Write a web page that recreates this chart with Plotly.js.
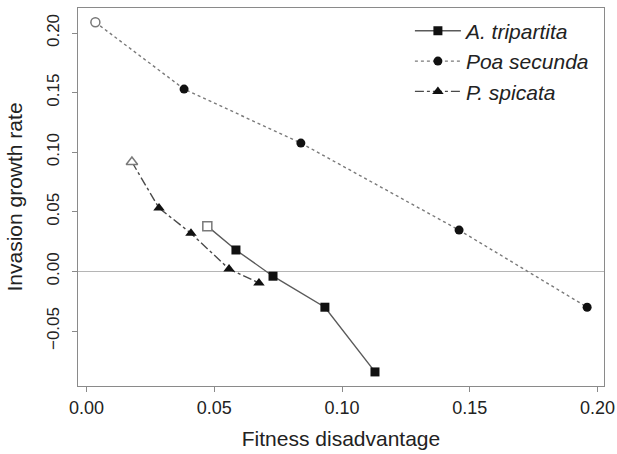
<!DOCTYPE html>
<html>
<head>
<meta charset="utf-8">
<script src="https://cdn.plot.ly/plotly-3.0.1.min.js"></script>
<style>html,body{margin:0;padding:0;background:#fff;}#chart{width:617px;height:454px;}</style>
</head>
<body>
<div id="chart"></div>
<script>
// Data
const seriesNames = ["A. tripartita", "Poa secunda", "P. spicata"];
const triX = [0.0473, 0.0585, 0.0730, 0.0933, 0.1129];
const triY = [0.038, 0.018, -0.004, -0.030, -0.0843];
const poaX = [0.0035, 0.0382, 0.0839, 0.1458, 0.1959];
const poaY = [0.209, 0.153, 0.1077, 0.0347, -0.030];
const spiX = [0.0178, 0.0284, 0.0409, 0.0558, 0.0675];
const spiY = [0.0918, 0.0532, 0.032, 0.002, -0.0097];
const xTicks = [0, 0.05, 0.10, 0.15, 0.20];
const yTicks = [-0.05, 0, 0.05, 0.10, 0.15, 0.20];

const markCol = "#111111";
const openCol = "#7a7a7a";

function series(name, xs, ys, dash, col, sym, size) {
  return {
    x: xs, y: ys, name: name, type: "scatter", mode: "lines+markers",
    line: {color: col, width: 1.4, dash: dash},
    marker: {symbol: sym, size: size, color: markCol}
  };
}
function openPoint(xs, ys, sym, size) {
  return {
    x: [xs[0]], y: [ys[0]], type: "scatter", mode: "markers", showlegend: false,
    hoverinfo: "skip",
    marker: {symbol: sym, size: size, color: "#ffffff", line: {color: openCol, width: 1.5}}
  };
}

const data = [
  series(seriesNames[0], triX, triY, "solid", "#5a5a5a", "square", 9),
  series(seriesNames[1], poaX, poaY, "dot", "#7a7a7a", "circle", 9),
  series(seriesNames[2], spiX, spiY, "dashdot", "#4a4a4a", "triangle-up", 10),
  openPoint(triX, triY, "square", 9),
  openPoint(poaX, poaY, "circle", 9),
  openPoint(spiX, spiY, "triangle-up", 10)
];

const axisCol = "#8a8a8a";
const layout = {
  width: 617, height: 454,
  margin: {l: 78, r: 13, t: 8, b: 68},
  paper_bgcolor: "#ffffff", plot_bgcolor: "#ffffff",
  font: {family: "Liberation Sans, Arial, sans-serif", color: "#222", size: 18},
  showlegend: true,
  legend: {
    x: 0.631, y: 0.993, xanchor: "left", yanchor: "top",
    bgcolor: "rgba(0,0,0,0)", borderwidth: 0, itemwidth: 46,
    font: {size: 21, style: "italic", color: "#222"},
    tracegroupgap: 0
  },
  xaxis: {
    range: [-0.0033, 0.2025], tickvals: xTicks, tickformat: ".2f",
    showgrid: false, zeroline: false,
    showline: true, linecolor: axisCol, linewidth: 1.2, mirror: true,
    ticks: "outside", ticklen: 5, tickcolor: axisCol,
    tickfont: {size: 18, color: "#222"},
    title: {text: "Fitness disadvantage", font: {size: 21, color: "#222"}, standoff: 14}
  },
  yaxis: {
    range: [-0.0961, 0.221], tickvals: yTicks, tickformat: ".2f",
    showgrid: false, zeroline: true, zerolinecolor: "#b5b5b5", zerolinewidth: 1.5,
    showline: true, linecolor: axisCol, linewidth: 1.2, mirror: true,
    ticks: "outside", ticklen: 5, tickcolor: axisCol, tickangle: -90,
    ticklabelstandoff: 6,
    tickfont: {size: 17, color: "#222"},
    title: {text: "Invasion growth rate", font: {size: 21, color: "#222"}, standoff: 15}
  }
};

Plotly.newPlot("chart", data, layout, {displayModeBar: false, staticPlot: true});
</script>
</body>
</html>
